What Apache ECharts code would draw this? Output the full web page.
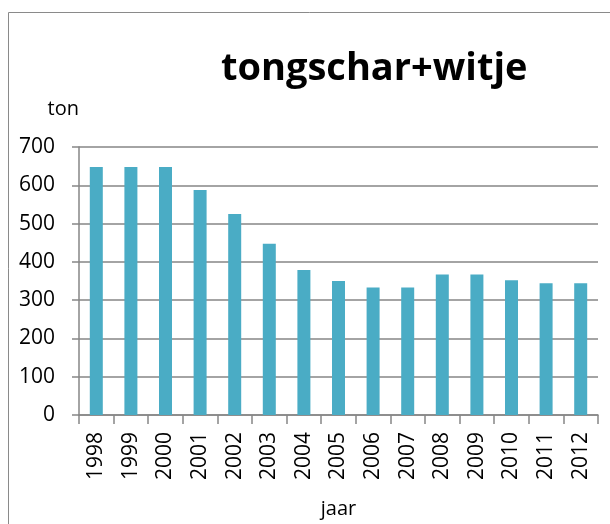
<!DOCTYPE html>
<html>
<head>
<meta charset="utf-8">
<script src="https://cdn.jsdelivr.net/npm/echarts@6/dist/echarts.min.js"></script>
<style>
  html, body { margin: 0; padding: 0; background: #fff; }
  #chart { width: 610px; height: 524px; }
</style>
</head>
<body>
<div id="chart"></div>
<script>
// Jaarlijkse hoeveelheid tongschar + witje (ton)
const years = ['1998', '1999', '2000', '2001', '2002', '2003', '2004', '2005',
               '2006', '2007', '2008', '2009', '2010', '2011', '2012'];
const tons = [648, 648, 648, 588, 525, 447, 379, 350, 333, 333, 367, 367, 352, 344, 344];
const yTicks = { min: 0, max: 700, step: 100 };

const font = 'Open Sans';
const axisGray = '#868686';

const chart = echarts.init(document.getElementById('chart'), null, { renderer: 'canvas' });
chart.setOption({
  animation: false,
  backgroundColor: '#ffffff',
  title: {
    text: 'tongschar+witje',
    left: 216,
    top: 45,
    textStyle: { fontFamily: font, fontSize: 38, fontWeight: 'bold', color: '#000' }
  },
  graphic: [{
    type: 'rect',
    shape: { x: 8.5, y: 12.5, width: 700, height: 600 },
    style: { fill: 'none', stroke: '#8a8a8a', lineWidth: 1 },
    silent: true
  }],
  grid: { left: 79, right: 12, top: 147, bottom: 109, containLabel: false, outerBoundsMode: 'none' },
  xAxis: {
    type: 'category',
    data: years,
    name: 'jaar',
    nameLocation: 'middle',
    nameGap: 84,
    nameMoveOverlap: false,
    nameTextStyle: { fontFamily: font, fontSize: 20, color: '#000' },
    axisLine: { lineStyle: { color: axisGray, width: 1.5 } },
    axisTick: { show: true, alignWithLabel: false, length: 9, lineStyle: { color: axisGray, width: 1.5 } },
    axisLabel: { rotate: 90, margin: 17, fontFamily: font, fontSize: 21, color: '#000', interval: 0 }
  },
  yAxis: {
    type: 'value',
    min: yTicks.min,
    max: yTicks.max,
    interval: yTicks.step,
    name: 'ton',
    nameLocation: 'end',
    nameGap: 28,
    nameTextStyle: { fontFamily: font, fontSize: 20, color: '#000', align: 'right' },
    axisLine: { show: true, lineStyle: { color: axisGray, width: 1.5 } },
    axisTick: { show: true, length: 7, lineStyle: { color: axisGray, width: 1.5 } },
    axisLabel: { margin: 24, fontFamily: font, fontSize: 21, color: '#000' },
    splitLine: { show: true, lineStyle: { color: axisGray, width: 1.5 } }
  },
  series: [{
    type: 'bar',
    data: tons,
    barWidth: 13,
    itemStyle: { color: '#4AACC5' }
  }]
});
</script>
</body>
</html>
